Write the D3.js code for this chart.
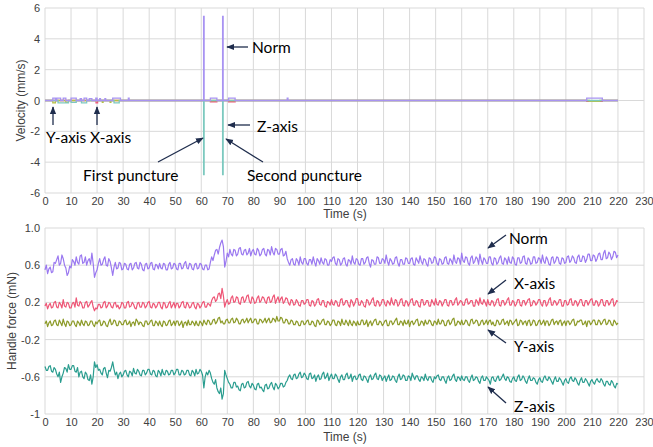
<!DOCTYPE html>
<html><head><meta charset="utf-8">
<script src="https://cdn.jsdelivr.net/npm/d3@7"></script>
<style>
body{margin:0;background:#fff;}
svg{display:block;}
.tick text{font-family:"Liberation Sans",Arial,sans-serif;font-size:11px;fill:#404040;}
.ann{font-family:Lato,"Open Sans",sans-serif;font-size:15.5px;fill:#000;}
.ttl{font-family:"Liberation Sans",Arial,sans-serif;font-size:12px;fill:#404040;}
</style></head>
<body><svg id="c" width="653" height="447"></svg>
<script>
// ---------- Data ----------
const xTicks = d3.range(0, 231, 10);
const velTicks = [-6,-4,-2,0,2,4,6];
const forceTicks = [-1,-0.6,-0.2,0.2,0.6,1.0];
const forceTickLabels = ["-1","-0.6","-0.2","0.2","0.6","1.0"];

// velocity pulses [tStart, tEnd, value]
const normVelPulses = [[3,4,0.15],[4.5,6,0.15],[7,8,0.15],[10,12,0.15],[13.5,14,0.12],[15,16,0.15],[17,18,0.12],[19.5,20,0.15],[21,21.3,0.12],[23,23.3,0.12],[26,29,0.15],[32,32.3,0.15],[60.9,61.1,5.45],[63.5,66,0.15],[68.2,68.4,5.45],[70.5,73,0.15],[93,93.3,0.15],[208,214,0.15]];
const zVelPulses = [[5,9,-0.15],[10,12,-0.12],[14,16,-0.15],[26.5,28.5,-0.15],[60.9,61.1,-4.8],[68.2,68.4,-4.8]];
const yVelPulses = [[3,4,-0.15],[8,9,-0.12],[22,22.3,-0.12],[25,25.3,-0.12],[209,213,-0.05]];
const xVelPulses = [[19.6,20.2,-0.15],[63.5,66,-0.08],[70.5,73,-0.08],[208,214,-0.06]];

// handle force, values at whole seconds t = 0..220
const normForce = [
0.55,0.51,0.58,0.53,0.62,0.70,0.62,0.67,0.57,0.52,
0.57,0.64,0.69,0.61,0.71,0.63,0.60,0.67,0.73,0.47,
0.55,0.67,0.61,0.69,0.59,0.64,0.49,0.63,0.57,0.62,
0.56,0.61,0.55,0.62,0.57,0.63,0.56,0.61,0.54,0.62,
0.57,0.63,0.55,0.60,0.62,0.56,0.61,0.55,0.63,0.57,
0.61,0.55,0.62,0.57,0.64,0.56,0.61,0.55,0.62,0.57,
0.61,0.55,0.60,0.56,0.69,0.71,0.77,0.79,0.87,0.58,
0.73,0.77,0.70,0.76,0.72,0.79,0.71,0.77,0.73,0.70,
0.77,0.71,0.76,0.72,0.78,0.70,0.76,0.80,0.71,0.77,
0.72,0.78,0.71,0.67,0.60,0.67,0.60,0.65,0.69,0.61,
0.67,0.60,0.66,0.69,0.59,0.65,0.68,0.61,0.66,0.60,
0.64,0.69,0.60,0.66,0.62,0.68,0.59,0.65,0.70,0.61,
0.66,0.60,0.67,0.63,0.69,0.58,0.65,0.61,0.68,0.62,
0.66,0.71,0.60,0.65,0.62,0.69,0.59,0.66,0.61,0.67,
0.62,0.68,0.60,0.65,0.70,0.61,0.66,0.59,0.67,0.63,
0.68,0.60,0.66,0.62,0.69,0.61,0.65,0.71,0.62,0.67,
0.73,0.63,0.68,0.60,0.70,0.64,0.67,0.72,0.61,0.66,
0.62,0.69,0.60,0.67,0.63,0.70,0.61,0.66,0.69,0.62,
0.67,0.60,0.68,0.63,0.70,0.61,0.66,0.62,0.69,0.63,
0.67,0.71,0.62,0.66,0.60,0.69,0.64,0.68,0.61,0.67,
0.63,0.70,0.65,0.68,0.62,0.71,0.64,0.69,0.66,0.72,
0.65,0.70,0.67,0.73,0.66,0.76,0.68,0.72,0.69,0.74,
0.71];
// values at half seconds t = 0.5..219.5
const normForceHalf = [
0.60,0.56,0.52,0.63,0.66,0.60,0.71,0.60,0.49,0.59,
0.66,0.60,0.63,0.70,0.62,0.69,0.65,0.61,0.62,0.52,
0.62,0.60,0.66,0.60,0.67,0.57,0.58,0.56,0.63,0.55,
0.62,0.56,0.61,0.55,0.62,0.57,0.63,0.55,0.61,0.56,
0.62,0.56,0.61,0.56,0.57,0.62,0.55,0.61,0.56,0.62,
0.56,0.62,0.56,0.62,0.57,0.62,0.56,0.61,0.56,0.62,
0.56,0.60,0.55,0.63,0.65,0.76,0.72,0.84,0.80,0.64,
0.69,0.72,0.77,0.70,0.78,0.72,0.76,0.71,0.78,0.75,
0.72,0.78,0.70,0.77,0.72,0.77,0.71,0.74,0.78,0.72,
0.77,0.70,0.75,0.63,0.66,0.61,0.67,0.60,0.63,0.67,
0.62,0.66,0.61,0.63,0.67,0.61,0.63,0.67,0.60,0.66,
0.68,0.62,0.67,0.60,0.67,0.61,0.66,0.61,0.63,0.67,
0.61,0.67,0.61,0.68,0.62,0.66,0.61,0.69,0.62,0.67,
0.62,0.64,0.67,0.61,0.68,0.62,0.66,0.61,0.68,0.62,
0.67,0.61,0.68,0.62,0.64,0.67,0.61,0.68,0.62,0.69,
0.62,0.67,0.61,0.68,0.62,0.67,0.61,0.64,0.68,0.61,
0.65,0.69,0.62,0.68,0.62,0.69,0.61,0.65,0.68,0.62,
0.69,0.62,0.68,0.61,0.68,0.62,0.68,0.61,0.63,0.69,
0.61,0.68,0.62,0.69,0.62,0.68,0.61,0.69,0.62,0.68,
0.62,0.64,0.69,0.61,0.68,0.62,0.69,0.62,0.68,0.62,
0.69,0.63,0.70,0.63,0.69,0.64,0.70,0.63,0.72,0.65,
0.71,0.64,0.72,0.66,0.73,0.67,0.74,0.66,0.75,0.68];
const xForce = [
0.16,0.13,0.19,0.15,0.21,0.14,0.18,0.23,0.15,0.19,
0.14,0.20,0.25,0.16,0.19,0.14,0.21,0.17,0.22,0.11,
0.13,0.18,0.15,0.21,0.16,0.19,0.14,0.20,0.17,0.15,
0.19,0.14,0.21,0.16,0.18,0.13,0.20,0.15,0.19,0.16,
0.21,0.14,0.18,0.16,0.20,0.13,0.19,0.15,0.21,0.17,
0.14,0.19,0.16,0.21,0.14,0.18,0.15,0.20,0.13,0.18,
0.16,0.21,0.15,0.18,0.22,0.26,0.23,0.30,0.35,0.15,
0.23,0.19,0.27,0.21,0.25,0.18,0.26,0.22,0.28,0.19,
0.24,0.20,0.27,0.22,0.25,0.19,0.26,0.21,0.28,0.23,
0.20,0.26,0.21,0.24,0.17,0.22,0.18,0.21,0.16,0.22,
0.19,0.23,0.16,0.21,0.18,0.24,0.17,0.22,0.15,0.20,
0.23,0.17,0.21,0.16,0.24,0.18,0.22,0.15,0.21,0.19,
0.24,0.17,0.20,0.15,0.22,0.19,0.25,0.16,0.21,0.18,
0.23,0.16,0.20,0.25,0.17,0.22,0.18,0.24,0.16,0.21,
0.19,0.24,0.17,0.21,0.15,0.23,0.18,0.22,0.16,0.20,
0.24,0.17,0.21,0.19,0.23,0.16,0.22,0.18,0.25,0.19,
0.21,0.17,0.24,0.19,0.22,0.16,0.21,0.25,0.18,0.20,
0.23,0.17,0.21,0.18,0.24,0.16,0.22,0.19,0.25,0.17,
0.21,0.18,0.23,0.16,0.22,0.20,0.24,0.17,0.21,0.19,
0.23,0.16,0.22,0.18,0.25,0.17,0.21,0.19,0.23,0.16,
0.22,0.18,0.24,0.17,0.21,0.19,0.23,0.16,0.22,0.20,
0.24,0.17,0.21,0.18,0.23,0.16,0.22,0.19,0.24,0.18,
0.21];
const xForceHalf = [
0.19,0.17,0.14,0.20,0.15,0.20,0.14,0.16,0.20,0.14,
0.19,0.15,0.17,0.21,0.14,0.20,0.15,0.20,0.15,0.14,
0.18,0.14,0.20,0.14,0.20,0.15,0.19,0.15,0.13,0.20,
0.14,0.20,0.15,0.20,0.14,0.19,0.15,0.20,0.14,0.20,
0.15,0.19,0.14,0.20,0.15,0.20,0.14,0.19,0.14,0.20,
0.19,0.14,0.20,0.15,0.20,0.14,0.19,0.15,0.19,0.14,
0.20,0.15,0.19,0.16,0.25,0.21,0.29,0.24,0.27,0.20,
0.18,0.25,0.20,0.26,0.19,0.25,0.20,0.27,0.21,0.26,
0.19,0.25,0.20,0.26,0.21,0.25,0.20,0.26,0.19,0.26,
0.24,0.19,0.25,0.19,0.23,0.17,0.23,0.17,0.22,0.18,
0.23,0.17,0.22,0.16,0.23,0.18,0.22,0.16,0.21,0.17,
0.18,0.22,0.16,0.23,0.17,0.22,0.17,0.23,0.16,0.24,
0.17,0.22,0.16,0.23,0.17,0.23,0.17,0.22,0.16,0.23,
0.18,0.22,0.17,0.19,0.23,0.16,0.23,0.17,0.22,0.16,
0.23,0.17,0.22,0.16,0.23,0.17,0.22,0.16,0.23,0.17,
0.18,0.22,0.16,0.23,0.17,0.22,0.17,0.23,0.17,0.22,
0.17,0.23,0.18,0.22,0.16,0.23,0.17,0.19,0.23,0.16,
0.18,0.22,0.16,0.23,0.17,0.22,0.17,0.23,0.17,0.22,
0.16,0.23,0.17,0.22,0.17,0.23,0.16,0.22,0.17,0.23,
0.18,0.22,0.16,0.23,0.17,0.22,0.17,0.23,0.16,0.22,
0.17,0.23,0.17,0.22,0.16,0.23,0.17,0.22,0.17,0.23,
0.17,0.22,0.16,0.23,0.17,0.22,0.17,0.23,0.16,0.22];
const yForce = [
-0.03,-0.06,0.00,-0.04,0.01,-0.05,-0.02,0.02,-0.06,-0.01,
-0.04,0.00,-0.06,-0.02,0.01,-0.05,-0.01,-0.04,0.00,-0.06,
-0.03,0.01,-0.04,-0.01,-0.06,0.02,-0.03,0.00,-0.05,-0.01,
-0.04,0.01,-0.03,-0.06,-0.01,0.02,-0.04,-0.02,-0.06,0.00,
-0.03,0.01,-0.05,-0.02,0.00,-0.06,-0.01,-0.04,0.01,-0.03,
-0.05,0.00,-0.03,-0.07,-0.01,0.01,-0.04,-0.02,0.00,-0.05,
-0.02,0.01,-0.04,0.00,-0.03,0.02,-0.01,0.04,0.00,-0.03,
0.02,-0.02,0.03,-0.01,0.01,-0.03,0.02,0.00,-0.02,0.03,
-0.01,0.02,-0.03,0.01,0.00,-0.02,0.03,-0.01,0.02,0.05,
0.00,0.03,-0.02,0.01,-0.03,0.00,-0.04,-0.01,-0.05,0.00,
-0.03,0.01,-0.04,-0.01,-0.06,0.00,-0.02,0.02,-0.04,-0.01,
-0.03,0.01,-0.05,-0.01,0.02,-0.04,-0.02,0.01,-0.05,-0.02,
0.00,-0.04,0.01,-0.03,-0.06,0.00,-0.02,0.02,-0.04,-0.01,
-0.03,0.01,-0.05,0.00,-0.02,0.03,-0.04,-0.01,0.01,-0.03,
-0.06,0.00,-0.02,0.02,-0.04,-0.01,0.01,-0.03,0.00,-0.05,
-0.01,0.02,-0.03,0.00,-0.05,0.01,-0.02,0.03,-0.04,-0.01,
0.01,-0.03,0.00,-0.05,0.02,-0.02,0.00,-0.04,0.01,-0.02,
-0.04,0.01,-0.01,-0.05,0.00,-0.03,0.02,-0.02,-0.05,0.00,
-0.02,0.02,-0.04,0.00,-0.01,-0.05,0.01,-0.03,0.00,-0.04,
0.01,-0.02,-0.05,0.00,-0.03,0.02,-0.01,-0.04,0.01,-0.02,
-0.05,0.00,-0.02,0.02,-0.04,-0.01,0.01,-0.03,-0.06,0.00,
-0.02,0.01,-0.04,0.00,-0.02,0.02,-0.03,0.00,-0.05,-0.01,
-0.02];
const yForceHalf = [
0.00,-0.02,-0.05,0.00,-0.04,0.01,-0.05,-0.03,0.00,-0.05,
0.00,-0.04,0.00,-0.05,-0.03,0.00,-0.05,0.00,-0.04,-0.01,
0.00,-0.05,0.00,-0.05,-0.01,-0.04,0.01,-0.05,0.00,-0.04,
0.00,-0.04,0.00,-0.02,-0.05,0.00,-0.01,-0.05,0.00,-0.04,
0.00,-0.05,0.00,-0.05,-0.04,0.00,-0.05,0.00,-0.05,0.00,
0.00,-0.05,0.00,-0.02,-0.05,-0.04,0.00,-0.05,-0.04,0.00,
-0.05,-0.02,0.01,-0.04,0.01,-0.03,0.03,-0.02,-0.03,0.01,
-0.02,0.02,-0.02,0.03,-0.03,0.01,-0.02,0.03,0.01,-0.02,
0.02,-0.03,0.02,-0.02,0.03,0.01,-0.02,0.03,-0.01,0.00,
0.04,-0.02,0.02,-0.03,0.01,-0.04,0.00,-0.05,0.00,-0.04,
0.00,-0.04,0.00,-0.05,0.01,-0.04,0.01,-0.04,0.00,-0.05,
0.01,-0.04,0.00,-0.05,-0.03,0.01,-0.05,-0.03,0.00,-0.05,
-0.04,0.01,-0.04,0.01,-0.02,-0.05,0.01,-0.04,0.00,-0.05,
0.00,-0.05,0.00,-0.04,0.01,-0.04,0.00,-0.05,-0.03,0.01,
-0.01,-0.04,0.01,-0.05,0.00,-0.05,-0.03,0.01,-0.04,0.00,
-0.04,-0.03,0.01,-0.05,0.00,-0.04,0.02,-0.05,0.00,-0.04,
-0.04,0.01,-0.04,0.01,-0.03,0.01,-0.05,0.00,-0.04,0.01,
0.00,-0.04,-0.05,0.01,-0.04,0.01,-0.04,0.00,0.01,-0.04,
0.00,-0.05,0.01,-0.04,0.00,0.00,-0.05,0.01,-0.05,0.00,
-0.04,0.01,0.00,-0.05,0.01,-0.04,0.00,0.00,-0.05,0.00,
0.00,-0.04,0.01,-0.05,0.00,0.01,-0.04,0.00,0.00,-0.04,
0.01,-0.04,0.01,-0.04,0.01,-0.04,0.01,-0.04,0.01,-0.04];
const zForce = [
-0.49,-0.53,-0.48,-0.55,-0.52,-0.60,-0.66,-0.56,-0.51,-0.47,
-0.52,-0.48,-0.55,-0.60,-0.54,-0.62,-0.57,-0.64,-0.68,-0.44,
-0.47,-0.52,-0.58,-0.50,-0.61,-0.54,-0.44,-0.58,-0.62,-0.55,
-0.58,-0.53,-0.60,-0.55,-0.51,-0.57,-0.54,-0.59,-0.53,-0.56,
-0.52,-0.58,-0.54,-0.60,-0.55,-0.52,-0.58,-0.54,-0.57,-0.53,
-0.56,-0.52,-0.58,-0.54,-0.57,-0.53,-0.59,-0.55,-0.52,-0.56,
-0.54,-0.72,-0.55,-0.53,-0.62,-0.68,-0.72,-0.78,-0.84,-0.53,
-0.62,-0.68,-0.72,-0.66,-0.70,-0.75,-0.67,-0.71,-0.65,-0.72,
-0.69,-0.74,-0.67,-0.71,-0.76,-0.68,-0.72,-0.66,-0.74,-0.69,
-0.71,-0.67,-0.70,-0.64,-0.58,-0.63,-0.57,-0.61,-0.55,-0.60,
-0.58,-0.63,-0.56,-0.61,-0.65,-0.58,-0.62,-0.55,-0.60,-0.64,
-0.57,-0.62,-0.59,-0.66,-0.58,-0.63,-0.56,-0.61,-0.65,-0.59,
-0.62,-0.57,-0.64,-0.60,-0.66,-0.58,-0.62,-0.56,-0.63,-0.59,
-0.61,-0.65,-0.58,-0.63,-0.60,-0.66,-0.57,-0.62,-0.59,-0.64,
-0.60,-0.56,-0.63,-0.59,-0.65,-0.61,-0.57,-0.64,-0.60,-0.66,
-0.62,-0.58,-0.64,-0.60,-0.67,-0.59,-0.63,-0.57,-0.65,-0.61,
-0.59,-0.64,-0.60,-0.66,-0.58,-0.63,-0.61,-0.67,-0.59,-0.64,
-0.62,-0.68,-0.60,-0.65,-0.59,-0.63,-0.57,-0.64,-0.61,-0.66,
-0.60,-0.65,-0.58,-0.63,-0.61,-0.67,-0.59,-0.64,-0.62,-0.68,
-0.61,-0.66,-0.59,-0.64,-0.62,-0.68,-0.60,-0.65,-0.63,-0.69,
-0.62,-0.67,-0.60,-0.65,-0.63,-0.69,-0.61,-0.66,-0.64,-0.70,
-0.63,-0.68,-0.62,-0.66,-0.64,-0.70,-0.65,-0.69,-0.66,-0.72,
-0.68];
const zForceHalf = [
-0.53,-0.49,-0.54,-0.50,-0.57,-0.55,-0.60,-0.50,-0.55,-0.52,
-0.48,-0.54,-0.50,-0.55,-0.60,-0.55,-0.63,-0.58,-0.60,-0.50,
-0.53,-0.56,-0.51,-0.56,-0.53,-0.50,-0.52,-0.55,-0.57,-0.60,
-0.54,-0.58,-0.54,-0.59,-0.56,-0.52,-0.58,-0.53,-0.58,-0.52,
-0.57,-0.53,-0.59,-0.53,-0.59,-0.57,-0.53,-0.58,-0.53,-0.58,
-0.52,-0.58,-0.53,-0.58,-0.53,-0.58,-0.53,-0.59,-0.57,-0.52,
-0.58,-0.60,-0.58,-0.56,-0.66,-0.63,-0.76,-0.72,-0.78,-0.58,
-0.66,-0.72,-0.66,-0.71,-0.74,-0.68,-0.72,-0.66,-0.70,-0.67,
-0.73,-0.68,-0.72,-0.74,-0.69,-0.73,-0.68,-0.71,-0.67,-0.73,
-0.67,-0.71,-0.66,-0.60,-0.62,-0.58,-0.62,-0.57,-0.61,-0.56,
-0.62,-0.57,-0.62,-0.58,-0.60,-0.63,-0.57,-0.62,-0.56,-0.60,
-0.62,-0.57,-0.63,-0.60,-0.63,-0.58,-0.62,-0.57,-0.60,-0.63,
-0.58,-0.63,-0.59,-0.63,-0.60,-0.63,-0.58,-0.62,-0.58,-0.64,
-0.59,-0.61,-0.64,-0.59,-0.64,-0.60,-0.63,-0.58,-0.64,-0.59,
-0.64,-0.60,-0.59,-0.63,-0.60,-0.64,-0.62,-0.60,-0.64,-0.60,
-0.59,-0.63,-0.60,-0.64,-0.61,-0.64,-0.59,-0.63,-0.60,-0.64,
-0.63,-0.60,-0.64,-0.61,-0.64,-0.60,-0.65,-0.61,-0.64,-0.60,
-0.64,-0.61,-0.64,-0.61,-0.64,-0.60,-0.62,-0.60,-0.65,-0.62,
-0.64,-0.60,-0.64,-0.59,-0.65,-0.62,-0.64,-0.61,-0.66,-0.63,
-0.65,-0.61,-0.63,-0.60,-0.65,-0.63,-0.65,-0.61,-0.66,-0.64,
-0.66,-0.62,-0.64,-0.61,-0.67,-0.64,-0.66,-0.62,-0.67,-0.65,
-0.66,-0.64,-0.65,-0.62,-0.68,-0.65,-0.68,-0.64,-0.70,-0.67];

const colors = {norm:"#9a78f0", x:"#ee5676", y:"#8c9a28", z:"#2a9d8f"};

// ---------- Drawing ----------
const svg = d3.select("#c");
const defs = svg.append("defs");
defs.append("marker").attr("id","ah").attr("viewBox","0 0 10 10").attr("refX",9).attr("refY",5)
  .attr("markerWidth",6).attr("markerHeight",6).attr("orient","auto")
  .append("path").attr("d","M0,1 L10,5 L0,9 Z").attr("fill","#1f2d4d");

const x = d3.scaleLinear().domain([0,230]).range([45,644]);
const yV = d3.scaleLinear().domain([-6,6]).range([193,8]);
const yF = d3.scaleLinear().domain([-1,1]).range([414,228]);

function panel(yScale, yTicks, labels, xLabY, title, titleX) {
  const g = svg.append("g");
  g.selectAll(".vg").data(xTicks).join("line")
    .attr("x1",d=>x(d)).attr("x2",d=>x(d)).attr("y1",yScale.range()[0]).attr("y2",yScale.range()[1])
    .attr("stroke","#d9d9d9").attr("stroke-width",1);
  g.selectAll(".hg").data(yTicks).join("line")
    .attr("x1",x(0)).attr("x2",x(230)).attr("y1",d=>yScale(d)).attr("y2",d=>yScale(d))
    .attr("stroke","#d9d9d9").attr("stroke-width",1);
  const xa = d3.axisBottom(x).tickValues(xTicks).tickSize(0).tickPadding(4);
  const ga = g.append("g").attr("transform",`translate(0,${yScale.range()[0]})`).call(xa);
  ga.select(".domain").remove();
  const ya = d3.axisLeft(yScale).tickValues(yTicks).tickSize(0).tickPadding(5)
    .tickFormat((d,i)=>labels[i]);
  const gy = g.append("g").attr("transform",`translate(${x(0)},0)`).call(ya);
  gy.select(".domain").remove();
  g.append("text").attr("class","ttl").attr("x",345).attr("y",xLabY).attr("text-anchor","middle").text("Time (s)");
  const cy = (yScale.range()[0]+yScale.range()[1])/2;
  g.append("text").attr("class","ttl").attr("transform",`translate(${titleX},${cy}) rotate(-90)`)
    .attr("text-anchor","middle").text(title);
  return g;
}

panel(yV, velTicks, velTicks.map(String), 218, "Velocity (mm/s)", 25);
panel(yF, forceTicks, forceTickLabels, 441, "Handle force (mN)", 16);

// velocity lines
function pulsesToPts(pulses){
  const pts=[[0,0]];
  pulses.forEach(p=>{pts.push([p[0],0],[p[0],p[2]],[p[1],p[2]],[p[1],0]);});
  pts.push([220,0]);
  return pts;
}
const vLine = d3.line().x(d=>x(d[0])).y(d=>yV(d[1]));
[[xVelPulses,colors.x],[yVelPulses,"#b8c040"],[zVelPulses,"#7cc9bf"],[normVelPulses,"#a893f2"]].forEach(s=>{
  svg.append("path").attr("d",vLine(pulsesToPts(s[0]))).attr("fill","none")
    .attr("stroke",s[1]).attr("stroke-width",1.3);
});

// force lines: interleave whole and half second samples
function combine(whole, half){
  const pts=[];
  whole.forEach((v,i)=>{ pts.push([i,v]); if(i<half.length) pts.push([i+0.5,half[i]]); });
  return pts;
}
const fLine = d3.line().x(d=>x(d[0])).y(d=>yF(d[1]));
[[zForce,zForceHalf,colors.z],[yForce,yForceHalf,colors.y],[xForce,xForceHalf,colors.x],[normForce,normForceHalf,colors.norm]].forEach(s=>{
  svg.append("path").attr("d",fLine(combine(s[0],s[1]))).attr("fill","none")
    .attr("stroke",s[2]).attr("stroke-width",1.2).attr("stroke-linejoin","round");
});

// annotations
const anns = [
  {t:"Norm", tx:252, ty:53, a:[248,47,227,47]},
  {t:"Z-axis", tx:257, ty:132, a:[250,125,228,125]},
  {t:"Y-axis", tx:46, ty:143, a:[53,125,53,107]},
  {t:"X-axis", tx:90, ty:143, a:[97,125,97,107]},
  {t:"First puncture", tx:83, ty:181, a:[158,162,203,138]},
  {t:"Second puncture", tx:247, ty:181, a:[263,162,226,139]},
  {t:"Norm", tx:509, ty:244, a:[506,235,488,248]},
  {t:"X-axis", tx:514, ty:289, a:[506,280,488,294]},
  {t:"Y-axis", tx:514, ty:352, a:[506,343,488,330]},
  {t:"Z-axis", tx:514, ty:412, a:[506,403,488,387]}
];
anns.forEach(a=>{
  svg.append("line").attr("x1",a.a[0]).attr("y1",a.a[1]).attr("x2",a.a[2]).attr("y2",a.a[3])
    .attr("stroke","#1f2d4d").attr("stroke-width",1.3).attr("marker-end","url(#ah)");
  svg.append("text").attr("class","ann").attr("x",a.tx).attr("y",a.ty).text(a.t);
});
</script></body></html>
